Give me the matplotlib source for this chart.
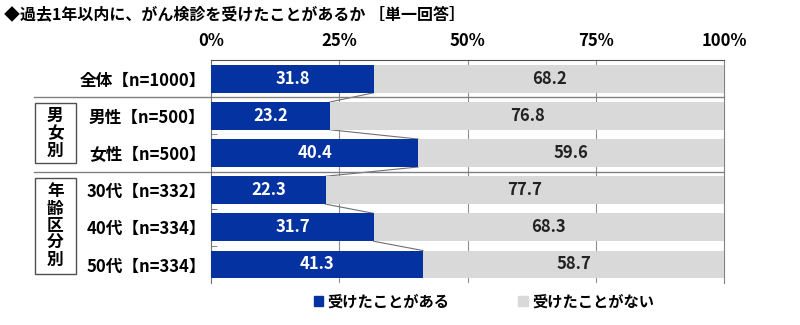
import numpy as np
import matplotlib.pyplot as plt
from matplotlib.patches import Rectangle
from matplotlib.lines import Line2D

plt.rcParams['font.family'] = ['Noto Sans CJK JP', 'DejaVu Sans']

labels = ["全体【n=1000】", "男性【n=500】", "女性【n=500】",
          "30代【n=332】", "40代【n=334】", "50代【n=334】"]
yes_vals = [31.8, 23.2, 40.4, 22.3, 31.7, 41.3]
no_vals = [68.2, 76.8, 59.6, 77.7, 68.3, 58.7]
legend_labels = ["受けたことがある", "受けたことがない"]
x_ticks = [0, 25, 50, 75, 100]

blue = "#0432A0"
gray = "#D9D9D9"
h = 0.75
fs = 12

fig = plt.figure(figsize=(8, 3.25), dpi=100)
ax = fig.add_axes([0.264, 0.129, 0.641, 0.686])

y = np.arange(len(labels))
yes = np.array(yes_vals)
no = np.array(no_vals)
ax.barh(y, yes, height=h, color=blue, zorder=3)
ax.barh(y, no, left=yes, height=h, color=gray, zorder=3)

for i in range(len(y)):
    ax.text(yes[i] / 2, i, f"{yes[i]:.1f}", color="white", ha="center", va="center",
            fontsize=fs, fontweight="bold", zorder=4)
    ax.text(yes[i] + no[i] / 2, i, f"{no[i]:.1f}", color="#222222", ha="center", va="center",
            fontsize=fs, fontweight="bold", zorder=4)

# series lines between bars
for i in range(len(y) - 1):
    ax.plot([yes[i], yes[i + 1]], [i + h / 2, i + 1 - h / 2], color="#707070", lw=0.8, zorder=2)

ax.set_xlim(0, 100)
ax.set_ylim(len(labels) - 0.5, -0.5)
ax.xaxis.tick_top()
ax.set_xticks(x_ticks)
ax.set_xticklabels([f"{t}%" for t in x_ticks], fontsize=fs, fontweight="bold")
ax.tick_params(axis="x", length=0, pad=7)
ax.set_yticks(y)
ax.set_yticklabels(labels, fontsize=fs, fontweight="bold")
ax.tick_params(axis="y", length=0, pad=4)
ax.set_yticks(np.arange(0.5, len(labels) - 0.5, 1), minor=True)
ax.tick_params(axis="y", which="minor", direction="in", length=4, color="#707070")
for t in x_ticks[1:-1]:
    ax.axvline(t, color="#909090", lw=0.8, zorder=1)

ax.spines["top"].set_color("#505050")
ax.spines["right"].set_color("#808080")
ax.spines["left"].set_color("#707070")
ax.spines["bottom"].set_visible(False)

# group separators
tr = ax.get_yaxis_transform()
for yy in [0.5, 2.5]:
    ax.add_line(Line2D([-0.346, 1], [yy, yy], transform=tr, color="#808080", lw=1.0,
                       clip_on=False, zorder=2))

# group boxes
for (y0, y1, txt) in [(0.66, 2.28, "男\n女\n別"), (2.67, 5.25, "年\n齢\n区\n分\n別")]:
    ax.add_patch(Rectangle((-0.344, y0), 0.08, y1 - y0, transform=tr, fill=False,
                           edgecolor="#505050", lw=1.0, clip_on=False))
    ax.text(-0.304, (y0 + y1) / 2, txt, transform=tr, ha="center", va="center",
            fontsize=fs, fontweight="bold", linespacing=0.95)

fig.text(0.005, 0.955, "◆過去1年以内に、がん検診を受けたことがあるか ［単一回答］",
         fontsize=11.5, fontweight="bold", va="center", ha="left")

handles = [Rectangle((0, 0), 1, 1, color=blue), Rectangle((0, 0), 1, 1, color=gray)]
fig.legend(handles, legend_labels, loc="center", bbox_to_anchor=(0.605, 0.072), ncol=2,
           frameon=False, handlelength=0.6, handleheight=0.6, handletextpad=0.3,
           columnspacing=4.5, prop={"weight": "bold", "size": 11})

fig.savefig("out.png", dpi=100)
